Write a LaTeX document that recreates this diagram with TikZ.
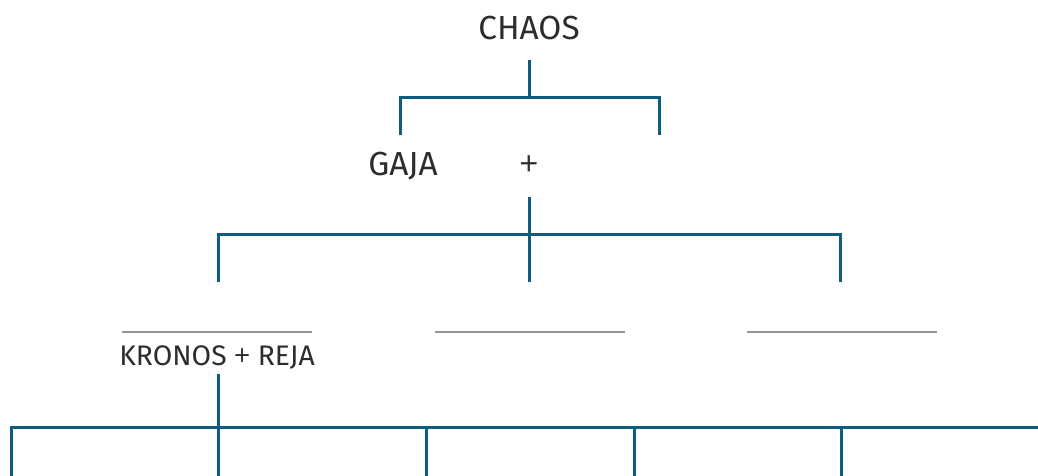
\documentclass[tikz,border=0pt]{standalone}
\usepackage{fontspec}
\setmainfont{Fira Sans}
\newfontfamily\plusfont{Open Sans}
\usetikzlibrary{positioning}
\definecolor{treeblue}{RGB}{16,92,128}
\definecolor{textgray}{RGB}{45,45,45}
\definecolor{slotgray}{RGB}{150,150,150}
\newcommand{\plussign}{{\plusfont +}}

\begin{document}
\begin{tikzpicture}[x=0.75pt,y=-0.75pt,
        branch/.style={draw=treeblue, line width=2.25pt},
        slot/.style={draw=slotgray, line width=1.1pt},
        person/.style={text=textgray, inner sep=0pt, anchor=base,
            font=\fontsize{25}{30}\selectfont}]
        \useasboundingbox (0,0) rectangle (1038,475);

        % Names
        \node[person] (chaos) at (529,39) {CHAOS};
        \node[person] (gaja) at (403,175) {GAJA};
        \node[person] (plus) at (529,175) {\plussign};
        \node[person, font=\fontsize{21.2}{26}\selectfont] (kronos) at (217,365) {KRONOS \plussign{} REJA};

        % Chaos branch
        \coordinate (c-top) at (529,60);
        \coordinate (c-mid) at (529,97);
        \coordinate (c-left) at (400,135);
        \coordinate (c-right) at (659,135);
        \draw[branch] (c-top) -- (c-mid);
        \draw[branch] (c-left) |- (c-mid) -| (c-right);

        % Gaja branch
        \coordinate (g-top) at (529,197);
        \coordinate (g-mid) at (529,234);
        \coordinate (g-1) at (218,282);
        \coordinate (g-2) at (529,282);
        \coordinate (g-3) at (840,282);
        \draw[branch] (g-top) -- (g-2);
        \draw[branch] (g-1) |- (g-mid) -| (g-3);

        % Empty slots
        \foreach \x in {217,530,842}
            \draw[slot] (\x-95,332) -- (\x+95,332);

        % Kronos branch
        \coordinate (k-top) at (218,374);
        \coordinate (k-mid) at (218,427);
        \coordinate (k-end) at (1045,427);
        \coordinate (k-1) at (11,480);
        \coordinate (k-2) at (218,480);
        \draw[branch] (k-top) -- (k-2);
        \draw[branch] (k-1) |- (k-mid) -- (k-end);
        \foreach \x [count=\i from 3] in {426,634,841} {
            \coordinate (k-\i) at (\x,480);
            \draw[branch] (k-\i) -- (k-\i |- k-mid);
        }
\end{tikzpicture}
\end{document}
